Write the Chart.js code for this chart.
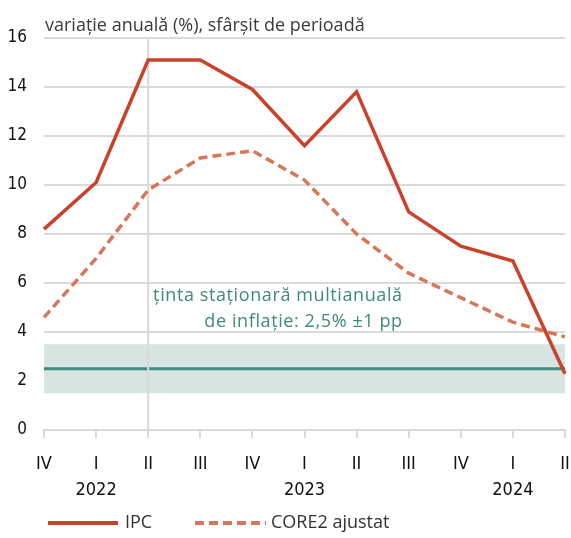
<!DOCTYPE html>
<html>
<head>
<meta charset="utf-8">
<script src="https://cdn.jsdelivr.net/npm/chart.js@4/dist/chart.umd.min.js"></script>
<style>
  html, body { margin: 0; padding: 0; background: #ffffff; }
  #wrap { width: 571px; height: 538px; position: relative; }
</style>
</head>
<body>
<div id="wrap"><canvas id="chart"></canvas></div>
<script>
// Quarters (Q4 2021 – Q2 2024) and the year shown under the first quarter
const quarters = ['IV', 'I', 'II', 'III', 'IV', 'I', 'II', 'III', 'IV', 'I', 'II'];
const years    = ['', '2022', '', '', '', '2023', '', '', '', '2024', ''];

// Annual change (%), end of period
const ipc   = [8.2, 10.1, 15.1, 15.1, 13.9, 11.6, 13.8, 8.9, 7.5, 6.9, 2.3];
const core2 = [4.6, 7.0, 9.8, 11.1, 11.4, 10.2, 8.0, 6.4, 5.4, 4.4, 3.8];

// Inflation target and its tolerance band
const targetCentre = 2.5;
const targetBand   = 1.0;

// Quarter index marked with a vertical rule
const markerIndex = 2;

const yTicks = [0, 2, 4, 6, 8, 10, 12, 14, 16];

const RED    = '#c9432c';
const SALMON = '#d6765b';
const TEAL   = '#3d8b7b';
const BAND   = '#d6e5e1';
const GRID   = '#dadada';
const TEXT   = '#111111';
const SANS   = '"Open Sans", "Noto Sans", sans-serif';
const NARROW = '"Liberation Sans Narrow", "DejaVu Sans Condensed", sans-serif';

const decorations = {
  id: 'decorations',
  beforeDatasetsDraw(chart) {
    const { ctx, chartArea: a, scales: { x, y } } = chart;
    ctx.save();
    // tolerance band
    const yHi = y.getPixelForValue(targetCentre + targetBand);
    const yLo = y.getPixelForValue(targetCentre - targetBand);
    ctx.fillStyle = BAND;
    ctx.fillRect(a.left, yHi, a.right - a.left, yLo - yHi);
    // target line
    const yT = y.getPixelForValue(targetCentre);
    ctx.strokeStyle = TEAL;
    ctx.lineWidth = 3;
    ctx.beginPath();
    ctx.moveTo(a.left, yT);
    ctx.lineTo(a.right, yT);
    ctx.stroke();
    // vertical rule
    const xm = x.getPixelForValue(markerIndex);
    ctx.strokeStyle = GRID;
    ctx.lineWidth = 2;
    ctx.beginPath();
    ctx.moveTo(xm, a.top);
    ctx.lineTo(xm, a.bottom);
    ctx.stroke();
    // target caption
    ctx.fillStyle = TEAL;
    ctx.font = '18px ' + SANS;
    if ('letterSpacing' in ctx) ctx.letterSpacing = '0.6px';
    ctx.textAlign = 'right';
    ctx.textBaseline = 'alphabetic';
    const xr = x.getPixelForValue(7) - 6;
    ctx.fillText('ținta staționară multianuală', xr, y.getPixelForValue(5.28));
    ctx.fillText('de inflație: 2,5% ±1 pp', xr, y.getPixelForValue(4.22));
    ctx.restore();
  },
  afterDraw(chart) {
    const { ctx, chartArea: a } = chart;
    ctx.save();
    // heading
    ctx.fillStyle = '#3a3a3a';
    ctx.font = '18px ' + SANS;
    ctx.textAlign = 'left';
    ctx.textBaseline = 'alphabetic';
    ctx.fillText('variație anuală (%), sfârșit de perioadă', a.left + 1, 31);
    // legend
    const ly = 523;
    ctx.lineWidth = 4;
    ctx.strokeStyle = RED;
    ctx.setLineDash([]);
    ctx.beginPath(); ctx.moveTo(48, ly); ctx.lineTo(118, ly); ctx.stroke();
    ctx.strokeStyle = SALMON;
    ctx.setLineDash([9, 5]);
    ctx.beginPath(); ctx.moveTo(195, ly); ctx.lineTo(266, ly); ctx.stroke();
    ctx.setLineDash([]);
    ctx.fillStyle = '#333333';
    ctx.font = '18px ' + SANS;
    ctx.textBaseline = 'middle';
    ctx.fillText('IPC', 125, ly);
    ctx.fillText('CORE2 ajustat', 271, ly);
    ctx.restore();
  }
};

new Chart(document.getElementById('chart'), {
  type: 'line',
  data: {
    labels: quarters.map((q, i) => [q, years[i]]),
    datasets: [
      {
        label: 'IPC',
        data: ipc,
        borderColor: RED,
        borderWidth: 3.5,
        pointRadius: 0,
        tension: 0,
        borderJoinStyle: 'miter'
      },
      {
        label: 'CORE2 ajustat',
        data: core2,
        borderColor: SALMON,
        borderWidth: 3.5,
        borderDash: [9, 5],
        pointRadius: 0,
        tension: 0
      }
    ]
  },
  options: {
    responsive: true,
    maintainAspectRatio: false,
    animation: false,
    layout: { padding: { top: 38, right: 6, left: 0, bottom: 33 } },
    plugins: {
      legend: { display: false },
      tooltip: { enabled: false },
      title: { display: false }
    },
    scales: {
      x: {
        offset: false,
        grid: {
          drawOnChartArea: false,
          drawTicks: true,
          tickLength: 8,
          color: GRID,
          lineWidth: 2
        },
        border: { display: true, color: GRID, width: 2 },
        ticks: {
          autoSkip: false,
          maxRotation: 0,
          padding: 13,
          color: TEXT,
          font: { family: NARROW, size: 18, lineHeight: 1.45 }
        },
        afterFit(scale) {
          scale.height = 75;
          scale.paddingLeft = 0;
          scale.paddingRight = 0;
        }
      },
      y: {
        min: 0,
        max: 16,
        afterBuildTicks(scale) { scale.ticks = yTicks.map(v => ({ value: v })); },
        grid: { color: GRID, lineWidth: 2, drawTicks: false },
        border: { display: false },
        ticks: {
          padding: 17,
          color: TEXT,
          font: { family: NARROW, size: 17 }
        },
        afterFit(scale) { scale.width = 44; }
      }
    }
  },
  plugins: [decorations]
});
</script>
</body>
</html>
